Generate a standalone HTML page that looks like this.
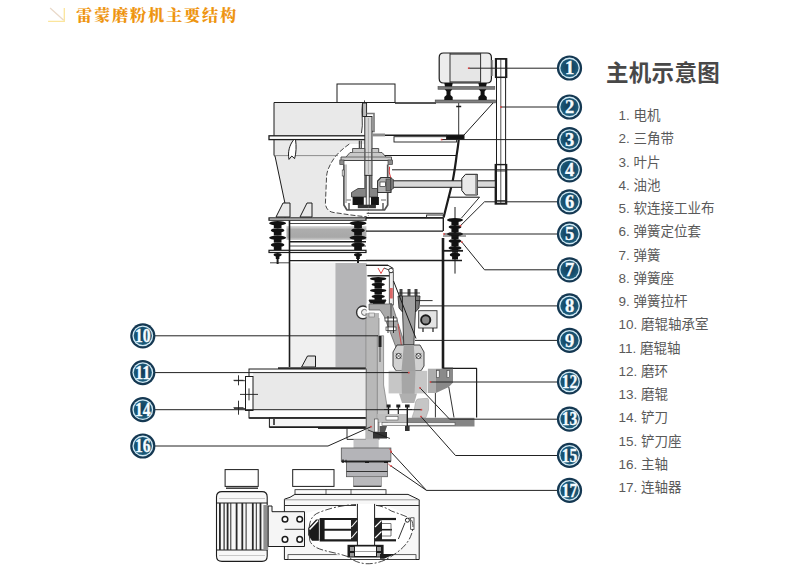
<!DOCTYPE html>
<html lang="zh-CN">
<head>
<meta charset="utf-8">
<title>雷蒙磨粉机主要结构</title>
<style>
html,body{margin:0;padding:0;background:#fff;}
body{width:793px;height:575px;overflow:hidden;position:relative;font-family:"Liberation Sans","Noto Sans CJK SC",sans-serif;}
#stage{position:absolute;left:0;top:0;width:793px;height:575px;}
svg{position:absolute;left:0;top:0;}
.title{position:absolute;left:76px;top:4px;font-family:"Liberation Serif","Noto Serif CJK SC",serif;font-weight:900;font-size:16.2px;letter-spacing:1.8px;color:#ee9511;line-height:24px;white-space:nowrap;}
.ltitle{position:absolute;left:606px;top:58.4px;font-size:22.5px;font-weight:700;color:#484848;line-height:32px;letter-spacing:0.3px;white-space:nowrap;}
.legend{position:absolute;left:618.5px;top:104.2px;margin:0;padding:0;list-style:none;font-size:13.5px;color:#5a5a5a;}
.legend li{height:23.25px;line-height:23.25px;white-space:nowrap;}
</style>
</head>
<body>
<div id="stage">
<svg id="art" width="793" height="575" viewBox="0 0 793 575">
<defs>
<radialGradient id="bg" cx="50%" cy="45%" r="60%">
<stop offset="0" stop-color="#123b56"/><stop offset="0.6" stop-color="#18506f"/><stop offset="1" stop-color="#216685"/>
</radialGradient>
<linearGradient id="tg" x1="0" y1="0" x2="0" y2="1"><stop offset="0" stop-color="#f2a61f"/><stop offset="1" stop-color="#dd8306"/></linearGradient>
<linearGradient id="band" x1="0" y1="0" x2="0" y2="1"><stop offset="0" stop-color="#dcdcdc"/><stop offset="0.25" stop-color="#adadad"/><stop offset="0.8" stop-color="#a8a8a8"/><stop offset="1" stop-color="#cfcfcf"/></linearGradient>
</defs>
<g id="machine" shape-rendering="auto">
<polygon points="274.0,102.5 361.5,102.5 361.5,133.0 366.0,136.0 366.0,217.6 285.0,217.6 285.0,203.5 275.0,156.0 274.0,155.5" fill="#e9e9e9" stroke="none" stroke-width="1" stroke-linejoin="round" />
<path d="M366 144 L349.3 144 C341 150 336 155 333 160 C329 166 326.5 172 326.5 178 L325.4 203.7 C326 209 329 211.5 333 212.4 C345 214 356 216 366 216.7 Z" fill="#fff" stroke="none" stroke-width="1" />
<path d="M349.3 144 C341 150 336 155 333 160 C329 166 326.5 172 326.5 178 L325.4 203.7 C326 209 329 211.5 333 212.4 C345 214 356 216 366.7 216.7" fill="none" stroke="#333" stroke-width="0.9" stroke-dasharray="5 2"/>
<rect x="337.0" y="84.0" width="58.0" height="18.5" fill="#fff" stroke="#1c1c1c" stroke-width="1" />
<polyline points="274.0,136.0 274.0,102.5 395.0,102.5" fill="none" stroke="#1c1c1c" stroke-width="1" stroke-linejoin="round" />
<polyline points="395.0,103.0 436.0,103.0" fill="none" stroke="#1c1c1c" stroke-width="1.6" stroke-linejoin="round" />
<polyline points="274.0,139.5 274.0,155.5 275.0,156.0 285.0,203.5 285.0,217.6" fill="none" stroke="#1c1c1c" stroke-width="1" stroke-linejoin="round" />
<polyline points="274.0,155.6 338.0,155.6" fill="none" stroke="#666" stroke-width="0.7" stroke-linejoin="round" />
<rect x="269.0" y="135.8" width="97.0" height="3.8" fill="#fff" stroke="#1c1c1c" stroke-width="1.3" />
<path d="M293.5 140 C289.5 145 287.5 152 289 159.4 L291.8 156 L294.6 158.6 C296.3 153 296.4 146 295.6 140" fill="#fff" stroke="#1c1c1c" stroke-width="1" />
<polygon points="276.0,217.0 283.0,203.0 290.0,203.0 290.0,217.0" fill="#e9e9e9" stroke="#1c1c1c" stroke-width="1" stroke-linejoin="round" />
<polygon points="300.0,217.0 307.0,203.0 312.0,203.0 312.0,217.0" fill="#e9e9e9" stroke="#1c1c1c" stroke-width="1" stroke-linejoin="round" />
<polyline points="371.0,135.3 446.6,135.3" fill="none" stroke="#1c1c1c" stroke-width="1.4" stroke-linejoin="round" />
<rect x="394.0" y="136.7" width="62.6" height="5.3" fill="none" stroke="#1c1c1c" stroke-width="0.9" />
<polyline points="382.5,155.5 456.6,155.5" fill="none" stroke="#1c1c1c" stroke-width="1" stroke-linejoin="round" />
<path d="M458.7 103 L458.7 135" fill="none" stroke="#1c1c1c" stroke-width="0.9" />
<path d="M458.7 139.9 C458 147 457.3 151 456.6 155.5 C455.5 165 454 174 452.4 182.6 L443.6 217.6" fill="none" stroke="#1c1c1c" stroke-width="2.2" />
<rect x="435.2" y="100.0" width="60.2" height="2.9" fill="#808080" stroke="#444" stroke-width="0.6" />
<polyline points="493.0,103.0 464.0,135.0" fill="none" stroke="#1c1c1c" stroke-width="1" stroke-linejoin="round" />
<polyline points="456.2,106.5 461.2,106.5" fill="none" stroke="#1c1c1c" stroke-width="1.5" stroke-linejoin="round" />
<rect x="446.6" y="135.0" width="17.4" height="4.2" fill="#111" stroke="#1c1c1c" stroke-width="1" />
<polyline points="441.0,139.5 447.0,139.5" fill="none" stroke="#d22" stroke-width="1" stroke-linejoin="round" />
<path d="M443.5 53 H487 Q491.4 53 491.4 57.5 V78.5 Q491.4 83 487 83 H443.5 Q439.2 83 439.2 78.5 V57.5 Q439.2 53 443.5 53 Z" fill="#ededed" stroke="#1c1c1c" stroke-width="1.2" />
<rect x="450.0" y="54.0" width="30.6" height="28.0" fill="#e6e6e6" stroke="none" stroke-width="1" />
<polyline points="450.0,53.0 450.0,83.0" fill="none" stroke="#333" stroke-width="1" stroke-linejoin="round" />
<polyline points="480.6,53.0 480.6,83.0" fill="none" stroke="#333" stroke-width="1" stroke-linejoin="round" />
<polyline points="450.0,54.0 480.6,54.0" fill="none" stroke="#333" stroke-width="1.2" stroke-linejoin="round" />
<polyline points="450.0,82.0 480.6,82.0" fill="none" stroke="#333" stroke-width="1.2" stroke-linejoin="round" />
<rect x="491.4" y="60.0" width="1.8" height="16.0" fill="#999" stroke="none" stroke-width="1" />
<rect x="438.0" y="86.4" width="56.8" height="2.9" fill="#7a7a7a" stroke="#555" stroke-width="0.6" />
<polygon points="444.3,83.0 452.7,83.0 452.0,86.4 445.0,86.4" fill="#111" stroke="none" stroke-width="1" stroke-linejoin="round" />
<polygon points="444.7,89.3 452.3,89.3 450.5,91.5 450.5,95.0 452.7,97.0 452.7,100.0 444.3,100.0 444.3,97.0 446.5,95.0 446.5,91.5" fill="#111" stroke="none" stroke-width="1" stroke-linejoin="round" />
<polygon points="478.4,83.0 486.8,83.0 486.1,86.4 479.1,86.4" fill="#111" stroke="none" stroke-width="1" stroke-linejoin="round" />
<polygon points="478.8,89.3 486.4,89.3 484.6,91.5 484.6,95.0 486.8,97.0 486.8,100.0 478.4,100.0 478.4,97.0 480.6,95.0 480.6,91.5" fill="#111" stroke="none" stroke-width="1" stroke-linejoin="round" />
<rect x="496.5" y="59.0" width="9.1" height="144.5" fill="#fff" stroke="#1c1c1c" stroke-width="1" />
<polyline points="500.8,59.0 500.8,203.5" fill="none" stroke="#444" stroke-width="0.9" stroke-linejoin="round" />
<rect x="495.6" y="58.8" width="11.0" height="18.5" fill="none" stroke="#1c1c1c" stroke-width="1.5" />
<rect x="495.3" y="164.6" width="11.3" height="39.4" fill="none" stroke="#1c1c1c" stroke-width="1.4" />
<polyline points="495.3,171.0 506.6,171.0" fill="none" stroke="#1c1c1c" stroke-width="0.8" stroke-linejoin="round" />
<polyline points="496.5,200.5 505.6,200.5" fill="none" stroke="#1c1c1c" stroke-width="0.8" stroke-linejoin="round" />
<rect x="391.0" y="180.8" width="104.3" height="6.5" fill="#d9d9d9" stroke="#1c1c1c" stroke-width="1" />
<path d="M465.5 174.3 H477.4 V195 H465.5 L461.8 190.5 V178.5 Z" fill="#e9e9e9" stroke="#1c1c1c" stroke-width="1" />
<rect x="475.2" y="175.0" width="2.2" height="19.5" fill="#888" stroke="none" stroke-width="1" />
<polyline points="448.0,197.2 479.5,197.2" fill="none" stroke="#1c1c1c" stroke-width="1.1" stroke-linejoin="round" />
<polyline points="479.5,197.2 461.5,218.0" fill="none" stroke="#1c1c1c" stroke-width="0.9" stroke-linejoin="round" />
<rect x="269.0" y="217.9" width="97.0" height="2.3" fill="#fff" stroke="#1c1c1c" stroke-width="1.2" />
<polyline points="366.0,217.9 443.5,217.9" fill="none" stroke="#1c1c1c" stroke-width="1.6" stroke-linejoin="round" />
<rect x="426.6" y="215.0" width="16.6" height="2.5" fill="#fff" stroke="#1c1c1c" stroke-width="0.9" />
<rect x="269.0" y="250.3" width="97.0" height="2.2" fill="#fff" stroke="#1c1c1c" stroke-width="1.2" />
<rect x="286.5" y="226.0" width="79.9" height="14.0" fill="url(#band)" stroke="none" stroke-width="1" />
<polyline points="290.0,223.5 366.0,223.5" fill="none" stroke="#1c1c1c" stroke-width="0.8" stroke-linejoin="round" />
<polyline points="290.0,241.7 366.0,241.7" fill="none" stroke="#1c1c1c" stroke-width="1.4" stroke-linejoin="round" />
<polyline points="290.0,246.0 366.0,246.0" fill="none" stroke="#1c1c1c" stroke-width="0.8" stroke-linejoin="round" />
<polyline points="366.0,231.1 443.0,231.1" fill="none" stroke="#1c1c1c" stroke-width="1.3" stroke-linejoin="round" />
<ellipse cx="277.6" cy="223.2" rx="8.5" ry="2.2" fill="#111"/>
<rect x="273.8" y="224.6" width="7.7" height="3.6" fill="#111"/>
<ellipse cx="277.6" cy="230.4" rx="6.8" ry="2.2" fill="#111"/>
<rect x="273.8" y="231.9" width="7.7" height="3.6" fill="#111"/>
<ellipse cx="277.6" cy="237.7" rx="8.5" ry="2.2" fill="#111"/>
<rect x="273.8" y="239.1" width="7.7" height="3.6" fill="#111"/>
<ellipse cx="277.6" cy="244.9" rx="6.8" ry="2.2" fill="#111"/>
<rect x="273.8" y="246.4" width="7.7" height="3.6" fill="#111"/>
<ellipse cx="277.6" cy="254.8" rx="4.0" ry="1.8" fill="#111"/>
<rect x="275.8" y="256.0" width="3.6" height="3.0" fill="#111"/>
<polyline points="277.6,259.0 277.6,264.0" fill="none" stroke="#1c1c1c" stroke-width="2" stroke-linejoin="round" />
<ellipse cx="358.0" cy="223.2" rx="8.5" ry="2.2" fill="#111"/>
<rect x="354.2" y="224.6" width="7.7" height="3.6" fill="#111"/>
<ellipse cx="358.0" cy="230.4" rx="6.8" ry="2.2" fill="#111"/>
<rect x="354.2" y="231.9" width="7.7" height="3.6" fill="#111"/>
<ellipse cx="358.0" cy="237.7" rx="8.5" ry="2.2" fill="#111"/>
<rect x="354.2" y="239.1" width="7.7" height="3.6" fill="#111"/>
<ellipse cx="358.0" cy="244.9" rx="6.8" ry="2.2" fill="#111"/>
<rect x="354.2" y="246.4" width="7.7" height="3.6" fill="#111"/>
<ellipse cx="358.0" cy="254.8" rx="4.0" ry="1.8" fill="#111"/>
<rect x="356.2" y="256.0" width="3.6" height="3.0" fill="#111"/>
<polyline points="358.0,259.0 358.0,264.0" fill="none" stroke="#1c1c1c" stroke-width="2" stroke-linejoin="round" />
<polyline points="455.0,207.0 455.0,273.6" fill="none" stroke="#1c1c1c" stroke-width="1" stroke-linejoin="round" />
<ellipse cx="455.0" cy="220.1" rx="8.0" ry="2.1" fill="#111"/>
<rect x="451.4" y="221.5" width="7.2" height="3.5" fill="#111"/>
<ellipse cx="455.0" cy="227.1" rx="6.4" ry="2.1" fill="#111"/>
<rect x="451.4" y="228.5" width="7.2" height="3.5" fill="#111"/>
<ellipse cx="455.0" cy="234.1" rx="8.0" ry="2.1" fill="#111"/>
<rect x="451.4" y="235.5" width="7.2" height="3.5" fill="#111"/>
<ellipse cx="455.0" cy="241.1" rx="6.4" ry="2.1" fill="#111"/>
<rect x="451.4" y="242.5" width="7.2" height="3.5" fill="#111"/>
<ellipse cx="455.0" cy="248.0" rx="6.5" ry="2.0" fill="#111"/>
<rect x="452.1" y="249.4" width="5.9" height="3.4" fill="#111"/>
<ellipse cx="455.0" cy="254.8" rx="5.2" ry="2.0" fill="#111"/>
<rect x="452.1" y="256.1" width="5.9" height="3.4" fill="#111"/>
<polyline points="443.0,236.0 466.0,236.0" fill="none" stroke="#1c1c1c" stroke-width="0.8" stroke-linejoin="round" />
<polyline points="443.0,250.8 463.0,250.8" fill="none" stroke="#1c1c1c" stroke-width="1.8" stroke-linejoin="round" />
<rect x="290.0" y="263.0" width="45.4" height="104.0" fill="#f0f0f0" stroke="none" stroke-width="1" />
<rect x="335.4" y="263.0" width="31.2" height="104.0" fill="#b5b5b7" stroke="none" stroke-width="1" />
<polyline points="289.5,220.6 289.5,367.0" fill="none" stroke="#1c1c1c" stroke-width="1.6" stroke-linejoin="round" />
<polyline points="289.5,260.7 366.0,260.7" fill="none" stroke="#1c1c1c" stroke-width="1.2" stroke-linejoin="round" />
<polyline points="270.0,262.8 290.0,262.8" fill="none" stroke="#1c1c1c" stroke-width="0.8" stroke-linejoin="round" />
<polyline points="366.0,260.5 462.0,260.5" fill="none" stroke="#1c1c1c" stroke-width="1.3" stroke-linejoin="round" />
<polyline points="443.0,238.0 443.0,368.8" fill="none" stroke="#1c1c1c" stroke-width="2.6" stroke-linejoin="round" />
<polyline points="443.3,218.0 443.3,231.0" fill="none" stroke="#1c1c1c" stroke-width="1.4" stroke-linejoin="round" />
<polyline points="443.0,368.6 453.0,368.6" fill="none" stroke="#1c1c1c" stroke-width="2.2" stroke-linejoin="round" />
<polyline points="453.0,368.4 476.6,368.4 476.6,417.5" fill="none" stroke="#1c1c1c" stroke-width="1.2" stroke-linejoin="round" />
<polygon points="301.6,367.0 307.5,356.0 315.5,356.0 315.5,367.0" fill="#e4e4e4" stroke="#1c1c1c" stroke-width="1" stroke-linejoin="round" />
<rect x="278.0" y="367.2" width="88.0" height="2.0" fill="#3a3a3a" stroke="none" stroke-width="1" />
<rect x="249.0" y="369.0" width="117.5" height="49.0" fill="#fcfcfc" stroke="#1c1c1c" stroke-width="1" />
<rect x="253.0" y="372.6" width="113.5" height="37.1" fill="#e9e9e9" stroke="none" stroke-width="1" />
<rect x="269.4" y="418.0" width="97.1" height="9.0" fill="#f5f5f5" stroke="#1c1c1c" stroke-width="1" />
<polyline points="249.2,418.0 366.5,418.0" fill="none" stroke="#1c1c1c" stroke-width="1.7" stroke-linejoin="round" />
<polyline points="269.4,427.2 366.5,427.2" fill="none" stroke="#1c1c1c" stroke-width="1.5" stroke-linejoin="round" />
<polyline points="274.0,419.0 274.0,425.0" fill="none" stroke="#1c1c1c" stroke-width="1.5" stroke-linejoin="round" />
<polyline points="318.0,428.5 366.0,428.5" fill="none" stroke="#1c1c1c" stroke-width="0.9" stroke-linejoin="round" />
<polyline points="347.0,428.5 347.0,439.4 366.0,439.4" fill="none" stroke="#1c1c1c" stroke-width="0.9" stroke-linejoin="round" />
<rect x="245.5" y="376.5" width="7.5" height="34.0" fill="#fff" stroke="#1c1c1c" stroke-width="1" />
<polyline points="233.5,380.3 243.5,380.3" fill="none" stroke="#1c1c1c" stroke-width="0.9" stroke-linejoin="round" />
<polyline points="238.5,375.3 238.5,385.3" fill="none" stroke="#1c1c1c" stroke-width="0.9" stroke-linejoin="round" />
<polyline points="240.0,394.4 258.0,394.4" fill="none" stroke="#1c1c1c" stroke-width="0.9" stroke-linejoin="round" />
<polyline points="249.0,388.4 249.0,400.4" fill="none" stroke="#1c1c1c" stroke-width="0.9" stroke-linejoin="round" />
<polyline points="233.5,407.7 243.5,407.7" fill="none" stroke="#1c1c1c" stroke-width="0.9" stroke-linejoin="round" />
<polyline points="238.5,400.7 238.5,414.7" fill="none" stroke="#1c1c1c" stroke-width="0.9" stroke-linejoin="round" />
<polyline points="234.0,380.7 246.0,380.7" fill="none" stroke="#1c1c1c" stroke-width="0.8" stroke-linejoin="round" />
<polyline points="234.0,408.5 246.0,408.5" fill="none" stroke="#1c1c1c" stroke-width="0.8" stroke-linejoin="round" />
<path d="M362.4 103.5 C361 112 363.5 124 361.5 133" fill="none" stroke="#1c1c1c" stroke-width="0.9" />
<polyline points="364.5,100.4 364.5,104.0" fill="none" stroke="#1c1c1c" stroke-width="0.8" stroke-linejoin="round" />
<rect x="362.6" y="103.0" width="4.0" height="13.5" fill="#bbb" stroke="#1c1c1c" stroke-width="0.9" />
<path d="M366.6 113.5 H374 V131.5 H371.5" fill="none" stroke="#777" stroke-width="1.6" />
<rect x="364.8" y="116.5" width="7.2" height="58.9" fill="#d6d6d6" stroke="#1c1c1c" stroke-width="0.9" />
<polyline points="368.4,118.0 368.4,174.0" fill="none" stroke="#999" stroke-width="0.7" stroke-linejoin="round" />
<rect x="372.0" y="133.5" width="13.0" height="2.9" fill="#8c8c8c" stroke="none" stroke-width="1" />
<polyline points="359.3,140.6 359.3,148.0" fill="none" stroke="#1c1c1c" stroke-width="1" stroke-linejoin="round" />
<polyline points="361.2,140.6 361.2,148.0" fill="none" stroke="#1c1c1c" stroke-width="1" stroke-linejoin="round" />
<polygon points="352.6,148.5 364.8,148.5 364.8,160.5 341.0,160.5 341.0,157.0 346.0,157.0 350.0,152.5 352.6,152.5" fill="#c9c9c9" stroke="#444" stroke-width="0.9" stroke-linejoin="round" />
<polygon points="372.0,148.5 378.7,148.5 378.7,152.5 382.0,152.5 386.0,157.0 391.5,157.0 391.5,160.5 372.0,160.5" fill="#c9c9c9" stroke="#444" stroke-width="0.9" stroke-linejoin="round" />
<polyline points="346.0,157.0 386.0,157.0" fill="none" stroke="#555" stroke-width="0.8" stroke-linejoin="round" />
<polyline points="351.0,152.5 381.0,152.5" fill="none" stroke="#666" stroke-width="0.7" stroke-linejoin="round" />
<polyline points="341.0,160.5 391.5,160.5" fill="none" stroke="#444" stroke-width="1" stroke-linejoin="round" />
<rect x="339.8" y="160.0" width="4.2" height="4.5" fill="#8c8c8c" stroke="#444" stroke-width="0.7" />
<rect x="388.0" y="160.0" width="4.6" height="4.5" fill="#8c8c8c" stroke="#444" stroke-width="0.7" />
<polyline points="343.9,164.5 343.9,205.0 347.0,210.0 384.5,210.0 387.7,205.0 387.7,191.0" fill="none" stroke="#555" stroke-width="1.7" stroke-linejoin="round" />
<polyline points="346.0,164.5 346.0,203.0" fill="none" stroke="#666" stroke-width="0.8" stroke-linejoin="round" />
<polyline points="387.7,164.5 387.7,177.0" fill="none" stroke="#555" stroke-width="1.7" stroke-linejoin="round" />
<rect x="342.2" y="170.0" width="1.8" height="6.0" fill="#fff" stroke="#333" stroke-width="0.6" />
<polygon points="351.5,197.0 351.5,192.5 358.0,188.5 364.8,188.5 364.8,175.4 372.0,175.4 372.0,188.5 377.6,188.5 377.6,197.0" fill="#858585" stroke="#333" stroke-width="0.8" stroke-linejoin="round" />
<rect x="366.2" y="175.4" width="3.0" height="30.6" fill="#eee" stroke="#222" stroke-width="0.8" />
<rect x="352.6" y="197.0" width="11.2" height="8.0" fill="#151515" stroke="none" stroke-width="1" />
<rect x="371.0" y="197.0" width="7.9" height="8.0" fill="#151515" stroke="none" stroke-width="1" />
<rect x="357.8" y="204.7" width="18.1" height="3.5" fill="#333" stroke="none" stroke-width="1" />
<polyline points="349.0,203.0 349.0,210.0" fill="none" stroke="#444" stroke-width="1.3" stroke-linejoin="round" />
<polyline points="383.0,203.0 383.0,210.0" fill="none" stroke="#444" stroke-width="1.3" stroke-linejoin="round" />
<polyline points="346.5,200.0 351.0,200.0" fill="none" stroke="#444" stroke-width="0.8" stroke-linejoin="round" />
<polyline points="381.0,200.0 386.0,200.0" fill="none" stroke="#444" stroke-width="0.8" stroke-linejoin="round" />
<polygon points="377.6,181.0 381.0,177.5 391.0,177.5 391.0,192.5 377.6,192.5" fill="#b5b5b5" stroke="#333" stroke-width="1.1" stroke-linejoin="round" />
<rect x="380.0" y="182.0" width="5.5" height="4.5" fill="#fff" stroke="#333" stroke-width="0.7" />
<rect x="386.0" y="179.0" width="5.0" height="12.0" fill="#777" stroke="#333" stroke-width="0.6" />
<polygon points="390.6,178.0 393.5,179.5 393.5,188.5 390.6,190.0" fill="#777" stroke="#333" stroke-width="0.6" stroke-linejoin="round" />
<polyline points="389.6,166.7 389.2,172.0 390.6,177.6" fill="none" stroke="#d33" stroke-width="1" stroke-linejoin="round" />
<polyline points="366.7,213.3 443.0,213.3" fill="none" stroke="#1c1c1c" stroke-width="0.9" stroke-linejoin="round" />
<polyline points="368.4,206.0 368.4,216.0" fill="none" stroke="#555" stroke-width="0.6" stroke-linejoin="round" stroke-dasharray="2 1"/>
<polyline points="366.0,265.3 388.0,265.3" fill="none" stroke="#1c1c1c" stroke-width="1.4" stroke-linejoin="round" />
<polyline points="388.0,265.3 393.4,268.5" fill="none" stroke="#1c1c1c" stroke-width="1" stroke-linejoin="round" />
<polyline points="378.0,268.0 381.0,273.5 384.0,268.0" fill="none" stroke="#d33" stroke-width="0.9" stroke-linejoin="round" />
<polyline points="367.4,275.8 390.0,275.8" fill="none" stroke="#1c1c1c" stroke-width="1.4" stroke-linejoin="round" />
<ellipse cx="378.2" cy="278.8" rx="8.2" ry="1.8" fill="#111"/>
<rect x="374.5" y="279.9" width="7.4" height="2.9" fill="#111"/>
<ellipse cx="378.2" cy="284.6" rx="6.6" ry="1.8" fill="#111"/>
<rect x="374.5" y="285.8" width="7.4" height="2.9" fill="#111"/>
<ellipse cx="378.2" cy="290.5" rx="8.2" ry="1.8" fill="#111"/>
<rect x="374.5" y="291.7" width="7.4" height="2.9" fill="#111"/>
<ellipse cx="378.2" cy="296.4" rx="6.6" ry="1.8" fill="#111"/>
<rect x="374.5" y="297.6" width="7.4" height="2.9" fill="#111"/>
<polygon points="369.0,300.0 386.0,300.0 384.0,304.0 371.0,304.0" fill="#111" stroke="#1c1c1c" stroke-width="1" stroke-linejoin="round" />
<rect x="389.3" y="272.0" width="4.0" height="33.0" fill="#eee" stroke="#333" stroke-width="0.8" />
<rect x="389.8" y="288.0" width="3.0" height="10.5" fill="#d66" stroke="none" stroke-width="1" />
<circle cx="391.0" cy="270.5" r="2.3" fill="#fff" stroke="#1c1c1c" stroke-width="0.9"/>
<polyline points="384.0,268.0 389.0,270.0" fill="none" stroke="#1c1c1c" stroke-width="0.8" stroke-linejoin="round" />
<circle cx="363.0" cy="312.4" r="6.4" fill="#fff" stroke="#333" stroke-width="1.4"/>
<circle cx="364.5" cy="312.4" r="3.0" fill="#eee" stroke="#555" stroke-width="0.9"/>
<rect x="366.6" y="303.5" width="6.4" height="10.0" fill="#fff" stroke="none" stroke-width="1" />
<polygon points="369.0,304.0 392.0,304.0 405.0,345.0 397.0,350.0 384.0,316.0 380.0,310.0 369.0,310.0" fill="#a9a9a9" stroke="#555" stroke-width="0.7" stroke-linejoin="round" />
<rect x="366.5" y="313.0" width="12.5" height="127.0" fill="#b8b8b8" stroke="none" stroke-width="1" />
<polyline points="366.0,313.0 366.0,440.0" fill="none" stroke="#777" stroke-width="0.7" stroke-linejoin="round" />
<polyline points="379.0,318.0 379.0,440.0" fill="none" stroke="#777" stroke-width="0.7" stroke-linejoin="round" />
<rect x="369.0" y="313.0" width="5.5" height="4.0" fill="#ddd" stroke="#777" stroke-width="0.6" />
<polygon points="377.3,335.7 383.6,335.7 383.6,385.0 388.0,412.0 388.0,422.0 377.3,422.0" fill="#c4c4c4" stroke="#777" stroke-width="0.7" stroke-linejoin="round" />
<rect x="378.5" y="336.0" width="3.0" height="11.0" fill="#222" stroke="none" stroke-width="1" />
<polyline points="380.0,347.0 380.0,362.0" fill="none" stroke="#333" stroke-width="0.8" stroke-linejoin="round" />
<rect x="385.0" y="318.0" width="12.0" height="3.0" fill="#fff" stroke="#333" stroke-width="0.7" />
<rect x="386.0" y="327.0" width="10.0" height="3.5" fill="#fff" stroke="#333" stroke-width="0.7" />
<polyline points="388.0,316.0 388.0,333.0" fill="none" stroke="#1c1c1c" stroke-width="0.9" stroke-linejoin="round" />
<polyline points="393.5,316.0 393.5,333.0" fill="none" stroke="#1c1c1c" stroke-width="0.9" stroke-linejoin="round" />
<polyline points="391.0,303.0 391.0,318.0" fill="none" stroke="#444" stroke-width="1.0" stroke-linejoin="round" />
<polygon points="402.5,296.0 415.5,296.0 415.5,310.0 413.8,345.0 403.8,345.0 402.5,310.0" fill="#a2a2a2" stroke="#333" stroke-width="0.9" stroke-linejoin="round" />
<rect x="399.5" y="289.0" width="3.0" height="7.0" fill="#444" stroke="none" stroke-width="1" />
<rect x="407.5" y="289.0" width="3.0" height="7.0" fill="#444" stroke="none" stroke-width="1" />
<rect x="414.5" y="289.0" width="3.0" height="7.0" fill="#444" stroke="none" stroke-width="1" />
<polyline points="398.0,293.0 420.0,293.0" fill="none" stroke="#1c1c1c" stroke-width="0.8" stroke-linejoin="round" />
<polygon points="398.0,296.0 402.5,296.0 402.5,312.0 399.0,308.0" fill="#777" stroke="#222" stroke-width="0.8" stroke-linejoin="round" />
<polygon points="415.5,296.0 420.0,296.0 419.0,308.0 415.5,312.0" fill="#777" stroke="#222" stroke-width="0.8" stroke-linejoin="round" />
<polyline points="416.0,300.6 432.6,300.6" fill="none" stroke="#1c1c1c" stroke-width="0.9" stroke-linejoin="round" />
<polyline points="393.5,281.0 416.0,338.5" fill="none" stroke="#1c1c1c" stroke-width="1" stroke-linejoin="round" />
<polyline points="398.0,324.0 401.5,346.0" fill="none" stroke="#c44" stroke-width="0.9" stroke-linejoin="round" />
<polygon points="393.0,352.0 397.0,345.0 420.0,345.0 424.0,352.0 424.0,366.0 421.0,370.8 396.0,370.8 393.0,366.0" fill="#d2d2d2" stroke="#333" stroke-width="0.9" stroke-linejoin="round" />
<polygon points="403.8,345.0 413.8,345.0 415.5,370.8 401.5,370.8" fill="#a2a2a2" stroke="none" stroke-width="1" stroke-linejoin="round" />
<circle cx="398.6" cy="356.0" r="2.6" fill="#fff" stroke="#1c1c1c" stroke-width="0.8"/>
<circle cx="418.5" cy="356.0" r="2.6" fill="#fff" stroke="#1c1c1c" stroke-width="0.8"/>
<polyline points="396.0,353.4 401.2,358.6" fill="none" stroke="#1c1c1c" stroke-width="0.6" stroke-linejoin="round" />
<polyline points="401.2,353.4 396.0,358.6" fill="none" stroke="#1c1c1c" stroke-width="0.6" stroke-linejoin="round" />
<polyline points="416.0,353.4 421.0,358.6" fill="none" stroke="#1c1c1c" stroke-width="0.6" stroke-linejoin="round" />
<polyline points="421.0,353.4 416.0,358.6" fill="none" stroke="#1c1c1c" stroke-width="0.6" stroke-linejoin="round" />
<rect x="418.7" y="310.7" width="18.3" height="17.3" fill="#e4e4e4" stroke="#333" stroke-width="0.9" />
<circle cx="425.7" cy="319.9" r="4.6" fill="#8a8a8a" stroke="#1a1a1a" stroke-width="1.9"/>
<polyline points="423.0,328.0 423.0,332.0" fill="none" stroke="#1c1c1c" stroke-width="1.2" stroke-linejoin="round" />
<polyline points="433.0,328.0 433.0,332.0" fill="none" stroke="#1c1c1c" stroke-width="1.2" stroke-linejoin="round" />
<rect x="388.6" y="370.8" width="38.6" height="22.6" fill="#c6c6c6" stroke="none" stroke-width="1" />
<polygon points="401.5,370.8 415.5,370.8 414.3,401.0 402.0,401.0" fill="#a6a6a6" stroke="none" stroke-width="1" stroke-linejoin="round" />
<polygon points="399.0,393.4 417.0,393.4 414.3,403.0 402.0,403.0" fill="#b0b0b0" stroke="none" stroke-width="1" stroke-linejoin="round" />
<rect x="427.9" y="368.7" width="8.1" height="24.3" fill="#adadad" stroke="none" stroke-width="1" />
<polygon points="436.0,368.7 453.0,368.7 453.0,382.6 448.8,387.0 437.5,392.3 436.0,393.0" fill="#8a8a8a" stroke="none" stroke-width="1" stroke-linejoin="round" />
<rect x="436.6" y="370.5" width="2.6" height="7.0" fill="#f2f2f2" stroke="#444" stroke-width="0.6" />
<rect x="447.0" y="370.5" width="2.6" height="7.0" fill="#f2f2f2" stroke="#444" stroke-width="0.6" />
<polyline points="435.4,393.0 435.4,417.5" fill="none" stroke="#1c1c1c" stroke-width="0.9" stroke-linejoin="round" />
<polyline points="448.8,387.0 454.0,417.5" fill="none" stroke="#1c1c1c" stroke-width="0.9" stroke-linejoin="round" />
<path d="M417.5 399 L427.5 398.3 Q428.8 398.5 428.7 402 L428.5 410 L426 417.5 H412 Q414.5 412 415 405 Q415.5 400 417.5 399 Z" fill="#c6c6c6" stroke="#999" stroke-width="0.5" />
<rect x="408.0" y="417.8" width="66.5" height="8.7" fill="#858585" stroke="none" stroke-width="1" />
<rect x="382.0" y="422.6" width="73.0" height="2.8" fill="#f4f4f4" stroke="#555" stroke-width="0.6" />
<rect x="377.3" y="414.0" width="30.7" height="8.0" fill="#bdbdbd" stroke="none" stroke-width="1" />
<rect x="386.0" y="416.5" width="12.0" height="3.5" fill="#fff" stroke="#555" stroke-width="0.6" />
<rect x="386.6" y="404.5" width="4.0" height="3.0" fill="#222" stroke="none" stroke-width="1" />
<polyline points="388.6,407.0 388.6,414.0" fill="none" stroke="#1c1c1c" stroke-width="1.2" stroke-linejoin="round" />
<rect x="396.3" y="404.5" width="4.0" height="3.0" fill="#222" stroke="none" stroke-width="1" />
<polyline points="398.3,407.0 398.3,414.0" fill="none" stroke="#1c1c1c" stroke-width="1.2" stroke-linejoin="round" />
<rect x="405.0" y="404.5" width="4.6" height="3.0" fill="#222" stroke="none" stroke-width="1" />
<polyline points="407.3,407.0 407.3,431.0" fill="none" stroke="#1c1c1c" stroke-width="1.4" stroke-linejoin="round" />
<rect x="405.0" y="426.0" width="4.6" height="5.0" fill="#333" stroke="none" stroke-width="1" />
<polyline points="384.0,409.5 412.0,409.5" fill="none" stroke="#1c1c1c" stroke-width="0.8" stroke-linejoin="round" />
<rect x="374.5" y="419.0" width="3.5" height="13.0" fill="#fff" stroke="#444" stroke-width="0.6" />
<rect x="373.0" y="432.0" width="14.0" height="6.5" fill="#333" stroke="none" stroke-width="1" />
<polygon points="379.6,426.0 387.0,426.0 385.0,432.0 379.6,432.0" fill="#555" stroke="none" stroke-width="1" stroke-linejoin="round" />
<polyline points="368.0,430.0 390.0,438.5" fill="none" stroke="#1c1c1c" stroke-width="0.8" stroke-linejoin="round" />
<rect x="353.5" y="439.3" width="25.2" height="8.7" fill="#c2c2c4" stroke="none" stroke-width="1" />
<rect x="341.3" y="448.0" width="49.6" height="13.0" fill="#b4b4b8" stroke="#555" stroke-width="0.8" />
<rect x="346.5" y="462.0" width="40.9" height="14.7" fill="#b4b4b8" stroke="#555" stroke-width="0.8" />
<polyline points="346.5,471.5 387.4,471.5" fill="none" stroke="#333" stroke-width="1.2" stroke-linejoin="round" />
<rect x="353.5" y="476.7" width="27.8" height="9.6" fill="#b9b9bc" stroke="#777" stroke-width="0.6" />
<polyline points="353.5,486.3 381.3,486.3" fill="none" stroke="#333" stroke-width="1.2" stroke-linejoin="round" />
<polyline points="341.3,461.4 390.9,461.4" fill="none" stroke="#222" stroke-width="1.5" stroke-linejoin="round" />
<polyline points="343.0,459.5 343.0,463.0" fill="none" stroke="#1c1c1c" stroke-width="1.4" stroke-linejoin="round" />
<polyline points="346.0,459.8 346.0,462.6" fill="none" stroke="#1c1c1c" stroke-width="1" stroke-linejoin="round" />
<polyline points="365.0,462.2 369.0,462.2" fill="none" stroke="#1c1c1c" stroke-width="1.6" stroke-linejoin="round" />
<polyline points="384.0,462.2 388.0,462.2" fill="none" stroke="#1c1c1c" stroke-width="1.6" stroke-linejoin="round" />
<polyline points="389.5,448.7 391.8,452.0" fill="none" stroke="#c44" stroke-width="0.9" stroke-linejoin="round" />
<polyline points="388.0,463.5 391.0,466.5" fill="none" stroke="#c44" stroke-width="0.9" stroke-linejoin="round" />
<rect x="225.1" y="469.6" width="33.1" height="16.8" fill="#fff" stroke="#1c1c1c" stroke-width="1" />
<polyline points="226.0,488.2 258.0,488.2" fill="none" stroke="#444" stroke-width="1.6" stroke-linejoin="round" />
<path d="M222 491.6 H262 Q267.2 491.6 267.2 497 V556 Q267.2 561.4 262 561.4 H222 Q216.5 561.4 216.5 556 V497 Q216.5 491.6 222 491.6 Z" fill="#f8f8f8" stroke="#1c1c1c" stroke-width="1.1" />
<polyline points="216.5,503.0 267.2,503.0" fill="none" stroke="#1c1c1c" stroke-width="1" stroke-linejoin="round" />
<polyline points="216.5,550.0 267.2,550.0" fill="none" stroke="#1c1c1c" stroke-width="1" stroke-linejoin="round" />
<polyline points="219.0,498.5 265.0,498.5" fill="none" stroke="#aaa" stroke-width="0.6" stroke-linejoin="round" />
<polyline points="219.0,555.5 265.0,555.5" fill="none" stroke="#aaa" stroke-width="0.6" stroke-linejoin="round" />
<polyline points="219.9,503.0 219.9,550.0" fill="none" stroke="#2a2a2a" stroke-width="1.8" stroke-linejoin="round" />
<polyline points="224.1,503.0 224.1,550.0" fill="none" stroke="#2a2a2a" stroke-width="1.2" stroke-linejoin="round" />
<polyline points="227.6,503.0 227.6,550.0" fill="none" stroke="#2a2a2a" stroke-width="1.8" stroke-linejoin="round" />
<polyline points="230.8,503.0 230.8,550.0" fill="none" stroke="#2a2a2a" stroke-width="1.0" stroke-linejoin="round" />
<polyline points="236.6,503.0 236.6,550.0" fill="none" stroke="#2a2a2a" stroke-width="1.8" stroke-linejoin="round" />
<polyline points="242.3,503.0 242.3,550.0" fill="none" stroke="#2a2a2a" stroke-width="1.8" stroke-linejoin="round" />
<polyline points="246.1,503.0 246.1,550.0" fill="none" stroke="#2a2a2a" stroke-width="1.0" stroke-linejoin="round" />
<polyline points="252.8,503.0 252.8,550.0" fill="none" stroke="#2a2a2a" stroke-width="1.8" stroke-linejoin="round" />
<polyline points="256.3,503.0 256.3,550.0" fill="none" stroke="#2a2a2a" stroke-width="1.0" stroke-linejoin="round" />
<polyline points="260.5,503.0 260.5,550.0" fill="none" stroke="#2a2a2a" stroke-width="1.8" stroke-linejoin="round" />
<rect x="263.4" y="505.0" width="4.8" height="45.0" fill="#8f8f8f" stroke="none" stroke-width="1" />
<rect x="292.7" y="469.6" width="41.3" height="16.8" fill="#fff" stroke="#1c1c1c" stroke-width="1" />
<rect x="295.0" y="489.7" width="91.0" height="4.7" fill="#fbfbfb" stroke="#1c1c1c" stroke-width="0.8" />
<polygon points="294.9,494.4 408.0,494.4 419.2,499.8 419.2,559.5 284.4,559.5 284.4,499.2 290.0,497.3 294.9,494.4" fill="#f7f7f7" stroke="#1c1c1c" stroke-width="1" stroke-linejoin="round" />
<polyline points="284.4,499.8 419.2,499.8" fill="none" stroke="#777" stroke-width="0.7" stroke-linejoin="round" />
<polyline points="326.0,489.3 326.0,494.6" fill="none" stroke="#1c1c1c" stroke-width="0.7" stroke-linejoin="round" />
<polyline points="351.0,489.3 351.0,494.6" fill="none" stroke="#1c1c1c" stroke-width="0.7" stroke-linejoin="round" />
<rect x="288.0" y="554.7" width="128.0" height="4.8" fill="#fafafa" stroke="#1c1c1c" stroke-width="0.7" />
<polygon points="268.2,506.0 272.0,506.0 272.0,511.7 304.5,511.7 304.5,546.5 268.2,546.5" fill="#f5f5f5" stroke="#1c1c1c" stroke-width="1" stroke-linejoin="round" />
<polyline points="284.6,529.3 304.5,529.3" fill="none" stroke="#1c1c1c" stroke-width="0.9" stroke-linejoin="round" />
<circle cx="285.0" cy="519.3" r="2.8" fill="#fff" stroke="#1c1c1c" stroke-width="1.5"/>
<circle cx="299.7" cy="519.3" r="2.8" fill="#fff" stroke="#1c1c1c" stroke-width="1.5"/>
<circle cx="285.0" cy="539.4" r="2.8" fill="#fff" stroke="#1c1c1c" stroke-width="1.5"/>
<circle cx="299.7" cy="539.4" r="2.8" fill="#fff" stroke="#1c1c1c" stroke-width="1.5"/>
<path d="M306.4 513 C320 509 340 505 357 504.5 H375 C392 506 404 512 411 519 L411.5 534 C406 546 392 556 384 559 H348 C336 553 318 550 309 541 Z" fill="#fff" stroke="none" stroke-width="1" />
<polyline points="284.4,505.5 356.0,505.5" fill="none" stroke="#333" stroke-width="1.1" stroke-linejoin="round" />
<polyline points="376.0,505.5 419.2,505.5" fill="none" stroke="#333" stroke-width="1.1" stroke-linejoin="round" />
<polyline points="319.7,519.0 357.4,519.0" fill="none" stroke="#1c1c1c" stroke-width="2.2" stroke-linejoin="round" />
<polyline points="374.6,519.0 396.0,519.0" fill="none" stroke="#1c1c1c" stroke-width="2.2" stroke-linejoin="round" />
<polyline points="319.7,540.3 357.4,540.3" fill="none" stroke="#1c1c1c" stroke-width="2.2" stroke-linejoin="round" />
<polyline points="374.6,540.3 396.0,540.3" fill="none" stroke="#1c1c1c" stroke-width="2.2" stroke-linejoin="round" />
<polyline points="322.0,529.7 357.4,529.7" fill="none" stroke="#1c1c1c" stroke-width="2.0" stroke-linejoin="round" />
<polyline points="374.6,529.7 392.0,529.7" fill="none" stroke="#1c1c1c" stroke-width="1.6" stroke-linejoin="round" />
<rect x="357.4" y="504.0" width="17.2" height="41.0" fill="#fff" stroke="none" stroke-width="1" />
<polyline points="357.4,503.9 357.4,545.0" fill="none" stroke="#1c1c1c" stroke-width="1" stroke-linejoin="round" />
<polyline points="374.6,503.9 374.6,545.0" fill="none" stroke="#1c1c1c" stroke-width="1" stroke-linejoin="round" />
<polygon points="308.2,528.0 316.0,519.5 318.9,519.5 318.9,540.7 312.0,540.7 308.2,535.0" fill="#1a1a1a" stroke="none" stroke-width="1" stroke-linejoin="round" />
<polyline points="309.5,529.5 318.0,520.5" fill="none" stroke="#fff" stroke-width="1.6" stroke-linejoin="round" />
<rect x="319.7" y="519.0" width="4.9" height="21.3" fill="#1a1a1a" stroke="none" stroke-width="1" />
<rect x="351.0" y="519.0" width="6.4" height="21.3" fill="#222" stroke="none" stroke-width="1" />
<rect x="374.6" y="519.0" width="7.4" height="21.3" fill="#222" stroke="none" stroke-width="1" />
<polyline points="351.5,527.0 357.0,520.5" fill="none" stroke="#fff" stroke-width="1.1" stroke-linejoin="round" />
<polyline points="351.5,538.0 357.0,531.5" fill="none" stroke="#fff" stroke-width="1.1" stroke-linejoin="round" />
<polyline points="375.0,527.0 381.5,520.5" fill="none" stroke="#fff" stroke-width="1.1" stroke-linejoin="round" />
<polyline points="375.0,538.0 381.5,531.5" fill="none" stroke="#fff" stroke-width="1.1" stroke-linejoin="round" />
<polyline points="382.0,523.5 391.0,523.5 391.0,536.0 382.0,536.0" fill="none" stroke="#555" stroke-width="0.8" stroke-linejoin="round" />
<circle cx="407.4" cy="520.2" r="2.0" fill="#fff" stroke="#1c1c1c" stroke-width="1"/>
<polyline points="405.0,522.7 398.4,539.0" fill="none" stroke="#1c1c1c" stroke-width="0.9" stroke-linejoin="round" />
<rect x="410.7" y="517.8" width="3.3" height="11.5" fill="#fff" stroke="#1c1c1c" stroke-width="0.7" />
<rect x="347.5" y="544.8" width="36.1" height="12.7" fill="#1c1c1c" stroke="none" stroke-width="1" />
<rect x="355.0" y="546.5" width="21.0" height="9.5" fill="#fff" stroke="none" stroke-width="1" />
<rect x="350.0" y="547.0" width="4.0" height="4.0" fill="#999" stroke="none" stroke-width="1" />
<rect x="377.0" y="547.0" width="4.0" height="4.0" fill="#999" stroke="none" stroke-width="1" />
<rect x="350.0" y="553.0" width="4.0" height="3.5" fill="#999" stroke="none" stroke-width="1" />
<rect x="377.0" y="553.0" width="4.0" height="3.5" fill="#999" stroke="none" stroke-width="1" />
<polyline points="355.0,551.5 376.0,551.5" fill="none" stroke="#777" stroke-width="0.7" stroke-linejoin="round" />
<path d="M380 554 H395 L384 558.8 H380 Z" fill="#1c1c1c" stroke="none" stroke-width="1" />
<path d="M309.8 540.7 C308 528 309 518 316.4 513.7 C326 509 342 505 356 504.5 M376 505.3 C384 506.5 388 509 391.8 511.2 C400 514 408 517 411 519 C414 524 413 530 411.5 534 C408 545 398 553 385 560 C378 563 372 564 365.6 563.7 C358 563 352 560 349 557 C338 553 328 552 319.7 549 C314 547 311 544 309.8 540.7" fill="none" stroke="#333" stroke-width="0.9" stroke-dasharray="7 2 2 2"/>
</g>
<g id="leaders">
<polyline points="468.7,68.2 557.0,68.2" fill="none" stroke="#222" stroke-width="1" />
<rect x="467.9" y="67.4" width="1.6" height="1.6" fill="#dd4444"/>
<polyline points="501.0,107.0 557.0,107.0" fill="none" stroke="#222" stroke-width="1" />
<rect x="500.2" y="106.2" width="1.6" height="1.6" fill="#dd4444"/>
<polyline points="441.6,139.6 557.0,139.6" fill="none" stroke="#222" stroke-width="1" />
<rect x="440.8" y="138.8" width="1.6" height="1.6" fill="#dd4444"/>
<polyline points="392.0,169.8 557.0,169.8" fill="none" stroke="#222" stroke-width="1" />
<polyline points="460.5,225.7 484.5,201.8 557.0,201.8" fill="none" stroke="#222" stroke-width="1" />
<rect x="459.7" y="224.9" width="1.6" height="1.6" fill="#dd4444"/>
<polyline points="444.0,234.0 557.0,234.0" fill="none" stroke="#222" stroke-width="1" />
<rect x="443.2" y="233.2" width="1.6" height="1.6" fill="#dd4444"/>
<polyline points="461.8,242.0 484.5,269.8 557.0,269.8" fill="none" stroke="#222" stroke-width="1" />
<rect x="461.0" y="241.2" width="1.6" height="1.6" fill="#dd4444"/>
<polyline points="420.0,305.9 557.0,305.9" fill="none" stroke="#222" stroke-width="1" />
<polyline points="415.0,340.4 557.0,340.4" fill="none" stroke="#222" stroke-width="1" />
<polyline points="430.5,382.0 557.0,382.0" fill="none" stroke="#222" stroke-width="1" />
<rect x="429.7" y="381.2" width="1.6" height="1.6" fill="#dd4444"/>
<polyline points="420.0,387.9 449.6,419.2 557.0,419.2" fill="none" stroke="#222" stroke-width="1" />
<rect x="419.2" y="387.1" width="1.6" height="1.6" fill="#dd4444"/>
<polyline points="421.0,416.6 455.5,455.5 557.0,455.5" fill="none" stroke="#222" stroke-width="1" />
<rect x="420.2" y="415.8" width="1.6" height="1.6" fill="#dd4444"/>
<polyline points="391.0,452.0 426.5,490.4 557.0,490.4" fill="none" stroke="#222" stroke-width="1" />
<polyline points="391.0,466.0 426.5,490.4" fill="none" stroke="#222" stroke-width="1" />
<rect x="390.2" y="451.2" width="1.6" height="1.6" fill="#dd4444"/>
<rect x="390.2" y="465.2" width="1.6" height="1.6" fill="#dd4444"/>
<polyline points="155.0,335.8 378.0,335.8" fill="none" stroke="#222" stroke-width="1" />
<polyline points="155.0,372.6 408.8,372.6" fill="none" stroke="#222" stroke-width="1" />
<rect x="408.0" y="371.8" width="1.6" height="1.6" fill="#dd4444"/>
<polyline points="155.0,409.7 421.4,409.7" fill="none" stroke="#222" stroke-width="1" />
<rect x="420.6" y="408.9" width="1.6" height="1.6" fill="#dd4444"/>
<polyline points="155.0,446.0 328.0,446.0 371.0,426.7" fill="none" stroke="#222" stroke-width="1" />
<rect x="370.2" y="425.9" width="1.6" height="1.6" fill="#dd4444"/>
</g>
<g id="badges">
<g transform="translate(569.5,68.0)">
<circle r="12.6" fill="#143852"/>
<circle r="10.4" fill="#d2eaf5"/>
<circle r="9.1" fill="url(#bg)"/>
<text x="0" y="6.2" text-anchor="middle" font-family="'Liberation Serif',serif" font-weight="700" font-size="18.5" fill="#f4fbff" stroke="#f4fbff" stroke-width="0.35">1</text>
</g>
<g transform="translate(569.5,107.0)">
<circle r="12.6" fill="#143852"/>
<circle r="10.4" fill="#d2eaf5"/>
<circle r="9.1" fill="url(#bg)"/>
<text x="0" y="6.2" text-anchor="middle" font-family="'Liberation Serif',serif" font-weight="700" font-size="18.5" fill="#f4fbff" stroke="#f4fbff" stroke-width="0.35">2</text>
</g>
<g transform="translate(569.5,139.6)">
<circle r="12.6" fill="#143852"/>
<circle r="10.4" fill="#d2eaf5"/>
<circle r="9.1" fill="url(#bg)"/>
<text x="0" y="6.2" text-anchor="middle" font-family="'Liberation Serif',serif" font-weight="700" font-size="18.5" fill="#f4fbff" stroke="#f4fbff" stroke-width="0.35">3</text>
</g>
<g transform="translate(569.5,169.8)">
<circle r="12.6" fill="#143852"/>
<circle r="10.4" fill="#d2eaf5"/>
<circle r="9.1" fill="url(#bg)"/>
<text x="0" y="6.2" text-anchor="middle" font-family="'Liberation Serif',serif" font-weight="700" font-size="18.5" fill="#f4fbff" stroke="#f4fbff" stroke-width="0.35">4</text>
</g>
<g transform="translate(569.5,201.8)">
<circle r="12.6" fill="#143852"/>
<circle r="10.4" fill="#d2eaf5"/>
<circle r="9.1" fill="url(#bg)"/>
<text x="0" y="6.2" text-anchor="middle" font-family="'Liberation Serif',serif" font-weight="700" font-size="18.5" fill="#f4fbff" stroke="#f4fbff" stroke-width="0.35">6</text>
</g>
<g transform="translate(569.5,234.0)">
<circle r="12.6" fill="#143852"/>
<circle r="10.4" fill="#d2eaf5"/>
<circle r="9.1" fill="url(#bg)"/>
<text x="0" y="6.2" text-anchor="middle" font-family="'Liberation Serif',serif" font-weight="700" font-size="18.5" fill="#f4fbff" stroke="#f4fbff" stroke-width="0.35">5</text>
</g>
<g transform="translate(569.5,269.8)">
<circle r="12.6" fill="#143852"/>
<circle r="10.4" fill="#d2eaf5"/>
<circle r="9.1" fill="url(#bg)"/>
<text x="0" y="6.2" text-anchor="middle" font-family="'Liberation Serif',serif" font-weight="700" font-size="18.5" fill="#f4fbff" stroke="#f4fbff" stroke-width="0.35">7</text>
</g>
<g transform="translate(569.5,305.9)">
<circle r="12.6" fill="#143852"/>
<circle r="10.4" fill="#d2eaf5"/>
<circle r="9.1" fill="url(#bg)"/>
<text x="0" y="6.2" text-anchor="middle" font-family="'Liberation Serif',serif" font-weight="700" font-size="18.5" fill="#f4fbff" stroke="#f4fbff" stroke-width="0.35">8</text>
</g>
<g transform="translate(569.5,340.4)">
<circle r="12.6" fill="#143852"/>
<circle r="10.4" fill="#d2eaf5"/>
<circle r="9.1" fill="url(#bg)"/>
<text x="0" y="6.2" text-anchor="middle" font-family="'Liberation Serif',serif" font-weight="700" font-size="18.5" fill="#f4fbff" stroke="#f4fbff" stroke-width="0.35">9</text>
</g>
<g transform="translate(569.5,381.8)">
<circle r="12.6" fill="#143852"/>
<circle r="10.4" fill="#d2eaf5"/>
<circle r="9.1" fill="url(#bg)"/>
<text x="0" y="6.3" text-anchor="middle" font-family="'Liberation Serif',serif" font-weight="700" font-size="18" fill="#f4fbff" stroke="#f4fbff" stroke-width="0.35" textLength="15.6" lengthAdjust="spacingAndGlyphs">12</text>
</g>
<g transform="translate(569.5,419.1)">
<circle r="12.6" fill="#143852"/>
<circle r="10.4" fill="#d2eaf5"/>
<circle r="9.1" fill="url(#bg)"/>
<text x="0" y="6.3" text-anchor="middle" font-family="'Liberation Serif',serif" font-weight="700" font-size="18" fill="#f4fbff" stroke="#f4fbff" stroke-width="0.35" textLength="15.6" lengthAdjust="spacingAndGlyphs">13</text>
</g>
<g transform="translate(569.5,455.3)">
<circle r="12.6" fill="#143852"/>
<circle r="10.4" fill="#d2eaf5"/>
<circle r="9.1" fill="url(#bg)"/>
<text x="0" y="6.3" text-anchor="middle" font-family="'Liberation Serif',serif" font-weight="700" font-size="18" fill="#f4fbff" stroke="#f4fbff" stroke-width="0.35" textLength="15.6" lengthAdjust="spacingAndGlyphs">15</text>
</g>
<g transform="translate(569.5,490.4)">
<circle r="12.6" fill="#143852"/>
<circle r="10.4" fill="#d2eaf5"/>
<circle r="9.1" fill="url(#bg)"/>
<text x="0" y="6.3" text-anchor="middle" font-family="'Liberation Serif',serif" font-weight="700" font-size="18" fill="#f4fbff" stroke="#f4fbff" stroke-width="0.35" textLength="15.6" lengthAdjust="spacingAndGlyphs">17</text>
</g>
<g transform="translate(142.8,335.8)">
<circle r="12.6" fill="#143852"/>
<circle r="10.4" fill="#d2eaf5"/>
<circle r="9.1" fill="url(#bg)"/>
<text x="0" y="6.3" text-anchor="middle" font-family="'Liberation Serif',serif" font-weight="700" font-size="18" fill="#f4fbff" stroke="#f4fbff" stroke-width="0.35" textLength="15.6" lengthAdjust="spacingAndGlyphs">10</text>
</g>
<g transform="translate(142.8,372.6)">
<circle r="12.6" fill="#143852"/>
<circle r="10.4" fill="#d2eaf5"/>
<circle r="9.1" fill="url(#bg)"/>
<text x="0" y="6.3" text-anchor="middle" font-family="'Liberation Serif',serif" font-weight="700" font-size="18" fill="#f4fbff" stroke="#f4fbff" stroke-width="0.35" textLength="15.6" lengthAdjust="spacingAndGlyphs">11</text>
</g>
<g transform="translate(142.8,409.7)">
<circle r="12.6" fill="#143852"/>
<circle r="10.4" fill="#d2eaf5"/>
<circle r="9.1" fill="url(#bg)"/>
<text x="0" y="6.3" text-anchor="middle" font-family="'Liberation Serif',serif" font-weight="700" font-size="18" fill="#f4fbff" stroke="#f4fbff" stroke-width="0.35" textLength="15.6" lengthAdjust="spacingAndGlyphs">14</text>
</g>
<g transform="translate(142.8,446.0)">
<circle r="12.6" fill="#143852"/>
<circle r="10.4" fill="#d2eaf5"/>
<circle r="9.1" fill="url(#bg)"/>
<text x="0" y="6.3" text-anchor="middle" font-family="'Liberation Serif',serif" font-weight="700" font-size="18" fill="#f4fbff" stroke="#f4fbff" stroke-width="0.35" textLength="15.6" lengthAdjust="spacingAndGlyphs">16</text>
</g>
</g>
<g stroke-width="1.3" fill="none"><path d="M50.1 8.1 L63.7 20.2" stroke="#e9d9c9"/><path d="M64.3 8.1 V21.3 H48.1" stroke="#fbe59c"/></g>
</svg>
<div class="title">雷蒙磨粉机主要结构</div>
<div class="ltitle">主机示意图</div>
<ul class="legend">
<li>1. 电机</li>
<li>2. 三角带</li>
<li>3. 叶片</li>
<li>4. 油池</li>
<li>5. 软连接工业布</li>
<li>6. 弹簧定位套</li>
<li>7. 弹簧</li>
<li>8. 弹簧座</li>
<li>9. 弹簧拉杆</li>
<li>10. 磨辊轴承室</li>
<li>11. 磨辊轴</li>
<li>12. 磨环</li>
<li>13. 磨辊</li>
<li>14. 铲刀</li>
<li>15. 铲刀座</li>
<li>16. 主轴</li>
<li>17. 连轴器</li>
</ul>
</div>
</body>
</html>
